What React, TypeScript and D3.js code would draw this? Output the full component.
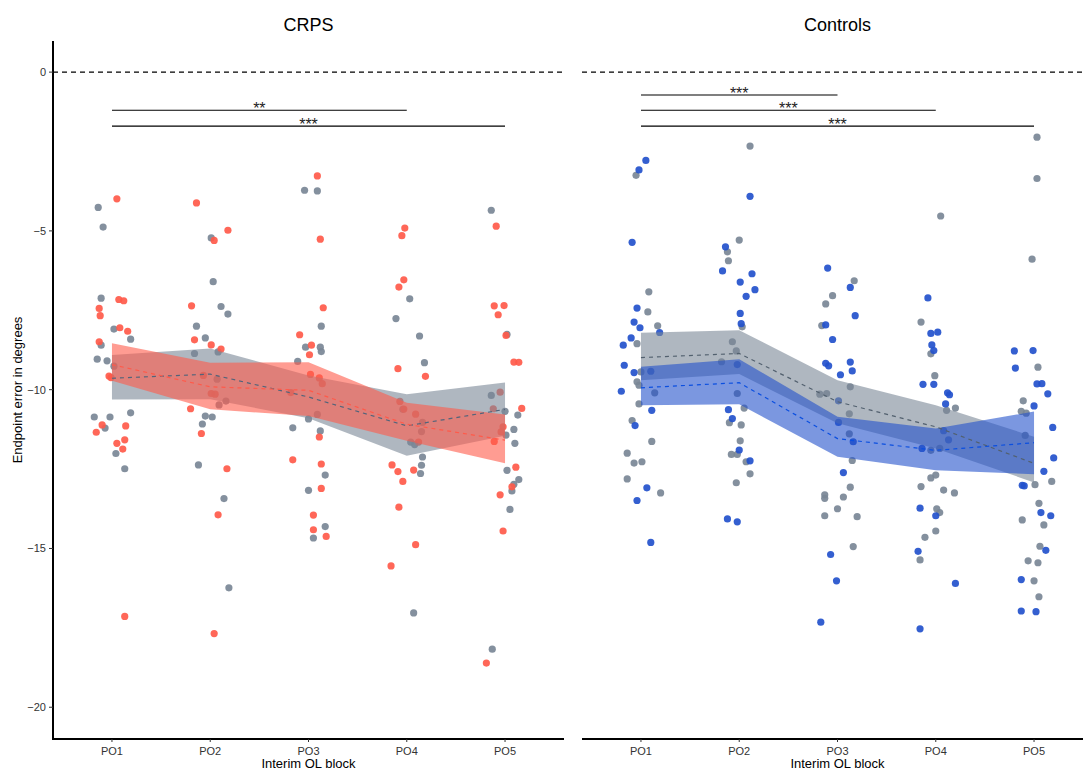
import React from 'react';
import { scaleLinear, line, area } from 'd3';

// categories and axis ticks
const blocks = ['PO1', 'PO2', 'PO3', 'PO4', 'PO5'];
const yTicks = [0, -5, -10, -15, -20];

// CRPS panel: means and CI bands (grey = group A, red = CRPS)
const crpsGreyMean = [-9.64, -9.51, -10.23, -11.14, -10.62];
const crpsGreyLow = [-10.31, -10.3, -10.9, -12.08, -11.45];
const crpsGreyHigh = [-8.91, -8.7, -9.55, -10.14, -9.77];
const crpsRedMean = [-9.21, -9.91, -10.02, -11.09, -11.59];
const crpsRedLow = [-9.72, -10.62, -10.83, -11.61, -12.32];
const crpsRedHigh = [-8.54, -9.15, -9.14, -10.41, -10.78];

// Controls panel
const ctrlGreyMean = [-8.99, -8.86, -10.38, -11.17, -12.32];
const ctrlGreyLow = [-9.7, -9.51, -11.06, -11.85, -12.92];
const ctrlGreyHigh = [-8.21, -8.13, -9.7, -10.49, -11.48];
const ctrlBlueMean = [-9.94, -9.78, -11.54, -11.91, -11.67];
const ctrlBlueLow = [-10.49, -10.46, -12.11, -12.54, -12.66];
const ctrlBlueHigh = [-9.28, -9.04, -10.85, -11.22, -10.69];

// individual points: [block (1-5), jitter, value]
const crpsGreyPts = [
  [1, -0.14, -4.26], [1, -0.09, -4.88], [1, -0.11, -7.12], [1, 0.02, -8.09], [1, 0.19, -8.41], [1, -0.11, -8.6],
  [1, -0.15, -9.04], [1, -0.05, -9.09], [1, 0.02, -9.26], [1, -0.18, -10.86], [1, -0.02, -10.86], [1, 0.19, -10.73],
  [1, -0.07, -11.21], [1, 0.04, -12.01], [1, 0.13, -12.49],
  [2, 0.01, -5.22], [2, 0.03, -6.6], [2, 0.11, -7.38], [2, 0.18, -7.62], [2, -0.14, -8.0], [2, -0.05, -8.37],
  [2, 0.08, -8.81], [2, -0.16, -8.86], [2, 0.07, -9.67], [2, 0.16, -10.36], [2, 0.09, -10.48], [2, -0.05, -10.83],
  [2, 0.02, -10.86], [2, -0.08, -11.08], [2, -0.12, -12.37], [2, 0.14, -13.43], [2, 0.19, -16.24],
  [3, -0.04, -3.72], [3, 0.09, -3.74], [3, 0.13, -8.0], [3, -0.03, -8.66], [3, 0.12, -8.66], [3, 0.13, -8.8],
  [3, -0.11, -9.11], [3, 0.09, -10.78], [3, 0.0, -10.92], [3, -0.16, -11.2], [3, 0.12, -11.3], [3, 0.17, -12.69],
  [3, 0.0, -13.17], [3, 0.17, -14.31], [3, 0.05, -14.67],
  [4, 0.03, -7.14], [4, -0.11, -7.76], [4, 0.13, -8.31], [4, 0.18, -9.15], [4, -0.04, -10.62], [4, 0.16, -11.03],
  [4, 0.15, -11.32], [4, 0.04, -11.65], [4, 0.08, -11.73], [4, 0.16, -12.12], [4, 0.15, -12.38], [4, 0.14, -12.64],
  [4, 0.07, -17.03],
  [5, -0.14, -4.35], [5, 0.02, -8.26], [5, -0.14, -10.18], [5, 0.0, -10.68], [5, 0.13, -10.8], [5, 0.09, -11.25],
  [5, 0.01, -11.43], [5, 0.1, -11.69], [5, 0.02, -12.54], [5, 0.14, -12.83], [5, 0.09, -12.98], [5, 0.07, -13.19],
  [5, 0.05, -13.77], [5, -0.13, -18.17],
];

const crpsRedPts = [
  [1, 0.05, -3.99], [1, 0.07, -7.16], [1, 0.12, -7.2], [1, -0.13, -7.44], [1, -0.12, -7.67], [1, 0.08, -8.05],
  [1, 0.16, -8.16], [1, -0.13, -8.49], [1, -0.03, -9.57], [1, -0.01, -9.62], [1, -0.1, -11.11], [1, -0.16, -11.34],
  [1, 0.14, -11.14], [1, 0.13, -11.58], [1, 0.05, -11.69], [1, 0.11, -11.87], [1, 0.13, -17.14],
  [2, -0.14, -4.12], [2, 0.18, -4.98], [2, 0.04, -5.3], [2, -0.19, -7.36], [2, -0.16, -8.43], [2, 0.01, -8.59],
  [2, 0.11, -8.72], [2, -0.07, -9.55], [2, 0.01, -10.12], [2, 0.05, -10.14], [2, -0.2, -10.6], [2, -0.09, -11.38],
  [2, 0.17, -12.49], [2, 0.08, -13.94], [2, 0.04, -17.68],
  [3, 0.09, -3.27], [3, 0.12, -5.26], [3, 0.15, -7.42], [3, -0.09, -8.27], [3, 0.03, -8.6], [3, 0.01, -8.9],
  [3, 0.02, -9.52], [3, 0.11, -9.63], [3, 0.14, -9.81], [3, -0.18, -10.09], [3, 0.11, -11.49], [3, -0.16, -12.21],
  [3, 0.13, -12.34], [3, 0.13, -13.11], [3, 0.05, -13.95], [3, 0.05, -14.41], [3, 0.18, -14.62],
  [4, -0.02, -4.91], [4, -0.05, -5.15], [4, -0.03, -6.54], [4, -0.08, -6.77], [4, -0.09, -9.34], [4, 0.19, -9.58],
  [4, -0.07, -10.37], [4, -0.03, -10.61], [4, 0.09, -10.77], [4, 0.12, -11.65], [4, -0.15, -12.37], [4, -0.09, -12.58],
  [4, 0.07, -12.53], [4, -0.04, -12.89], [4, -0.08, -13.7], [4, 0.09, -14.88], [4, -0.16, -15.55],
  [5, -0.09, -4.85], [5, -0.11, -7.36], [5, -0.01, -7.35], [5, -0.07, -7.64], [5, 0.01, -8.29], [5, 0.09, -9.13],
  [5, 0.14, -9.14], [5, -0.05, -10.08], [5, 0.17, -10.59], [5, -0.12, -10.6], [5, -0.02, -11.17], [5, -0.04, -11.33],
  [5, -0.11, -11.63], [5, 0.11, -12.44], [5, 0.07, -13.06], [5, -0.05, -13.31], [5, -0.02, -14.45], [5, -0.19, -18.61],
];

const ctrlGreyPts = [
  [1, -0.05, -3.25], [1, 0.08, -6.92], [1, 0.07, -7.55], [1, 0.17, -7.99], [1, -0.04, -8.55], [1, 0.0, -9.44],
  [1, -0.04, -9.75], [1, -0.02, -9.86], [1, 0.14, -10.1], [1, -0.02, -10.45], [1, -0.09, -10.97], [1, 0.11, -11.63],
  [1, -0.14, -12.0], [1, -0.07, -12.31], [1, 0.01, -12.27], [1, -0.14, -12.81], [1, 0.2, -13.25],
  [2, 0.11, -2.33], [2, 0.0, -5.29], [2, -0.12, -5.66], [2, -0.11, -5.94], [2, 0.03, -8.02], [2, -0.07, -8.49],
  [2, -0.03, -8.78], [2, -0.18, -9.12], [2, -0.02, -10.12], [2, 0.05, -10.58], [2, -0.1, -11.04], [2, 0.02, -11.11],
  [2, 0.01, -11.61], [2, -0.08, -12.04], [2, -0.02, -12.04], [2, 0.07, -12.27], [2, 0.11, -12.65], [2, -0.03, -12.93],
  [3, 0.17, -6.57], [3, -0.05, -7.04], [3, -0.12, -7.3], [3, -0.16, -7.98], [3, 0.13, -9.91], [3, -0.18, -10.14],
  [3, -0.11, -10.12], [3, 0.12, -10.76], [3, 0.12, -11.39], [3, 0.15, -12.23], [3, 0.13, -13.07], [3, -0.13, -13.31],
  [3, -0.13, -13.42], [3, 0.06, -13.38], [3, 0.0, -13.75], [3, -0.13, -13.97], [3, 0.2, -14.0], [3, 0.16, -14.94],
  [4, 0.05, -4.53], [4, -0.15, -7.87], [4, -0.05, -8.87], [4, -0.01, -9.56], [4, 0.11, -10.65], [4, 0.2, -10.58],
  [4, -0.05, -11.91], [4, 0.04, -11.85], [4, -0.05, -12.78], [4, 0.0, -12.69], [4, -0.15, -13.05], [4, 0.08, -13.16],
  [4, 0.19, -13.25], [4, 0.01, -13.75], [4, 0.04, -13.87], [4, 0.0, -14.45], [4, -0.11, -14.65], [4, -0.16, -15.36],
  [5, 0.03, -2.05], [5, 0.03, -3.35], [5, -0.02, -5.89], [5, 0.04, -9.29], [5, -0.11, -10.35], [5, -0.13, -10.68],
  [5, -0.08, -10.74], [5, -0.09, -11.44], [5, 0.18, -12.89], [5, 0.01, -12.99], [5, 0.05, -13.58], [5, -0.12, -14.1],
  [5, 0.1, -14.26], [5, 0.06, -14.93], [5, -0.06, -15.39], [5, 0.04, -15.45], [5, 0.0, -16.02], [5, 0.05, -16.52],
];

const ctrlBluePts = [
  [1, 0.05, -2.78], [1, -0.02, -3.08], [1, -0.09, -5.36], [1, -0.04, -7.43], [1, -0.07, -7.87], [1, -0.01, -8.05],
  [1, 0.19, -8.2], [1, -0.1, -8.37], [1, -0.18, -8.6], [1, -0.17, -9.23], [1, -0.07, -9.46], [1, 0.1, -9.42],
  [1, -0.2, -10.05], [1, 0.11, -10.65], [1, -0.06, -11.13], [1, 0.06, -13.09], [1, -0.04, -13.49], [1, 0.1, -14.81],
  [2, 0.11, -3.91], [2, -0.14, -5.5], [2, -0.17, -6.26], [2, 0.13, -6.35], [2, 0.01, -6.61], [2, 0.16, -6.85],
  [2, 0.07, -7.06], [2, 0.01, -7.6], [2, 0.02, -7.92], [2, -0.02, -9.21], [2, -0.11, -10.63], [2, -0.07, -10.91],
  [2, 0.0, -11.9], [2, 0.11, -12.24], [2, -0.12, -14.07], [2, -0.02, -14.16],
  [3, -0.1, -6.17], [3, 0.13, -6.78], [3, 0.18, -7.67], [3, -0.12, -7.96], [3, -0.05, -8.42], [3, -0.12, -9.17],
  [3, -0.09, -9.25], [3, 0.13, -9.13], [3, 0.15, -9.41], [3, 0.03, -9.53], [3, 0.01, -10.35], [3, 0.01, -11.03],
  [3, 0.16, -11.64], [3, 0.06, -12.61], [3, -0.07, -15.19], [3, -0.01, -16.02], [3, -0.17, -17.32],
  [4, -0.08, -7.11], [4, -0.05, -8.23], [4, 0.02, -8.19], [4, -0.04, -8.59], [4, -0.02, -8.77], [4, -0.13, -9.83],
  [4, -0.02, -9.83], [4, 0.12, -10.1], [4, 0.14, -10.16], [4, 0.1, -10.45], [4, 0.08, -11.29], [4, 0.13, -11.58],
  [4, -0.14, -11.85], [4, -0.16, -13.73], [4, 0.0, -13.97], [4, -0.18, -15.09], [4, 0.2, -16.1], [4, -0.16, -17.53],
  [5, -0.2, -8.78], [5, -0.01, -8.77], [5, -0.19, -9.32], [5, 0.03, -9.82], [5, 0.08, -9.81], [5, 0.14, -10.13],
  [5, 0.0, -10.51], [5, 0.19, -11.19], [5, 0.2, -12.15], [5, 0.1, -12.57], [5, -0.12, -13.01], [5, -0.1, -13.03],
  [5, 0.07, -13.87], [5, 0.17, -13.97], [5, 0.12, -15.06], [5, -0.13, -15.98], [5, -0.13, -16.97], [5, 0.02, -16.99],
];

// significance brackets: [from block, to block, height, label]
const crpsSig = [[1, 4, -1.2, '**'], [1, 5, -1.7, '***']];
const ctrlSig = [[1, 3, -0.72, '***'], [1, 4, -1.2, '***'], [1, 5, -1.7, '***']];

const GREY = '#7a8796';
const RED = '#ff5a4a';
const BLUE = '#2351cc';
const FONT = '"Liberation Sans", Arial, Helvetica, sans-serif';

const W = 1083;
const H = 770;
const top = 41;
const bottom = 739;
const panelW = 511;

const y = scaleLinear().domain([-21, 0.98]).range([bottom, top]);

function Panel({ x0, title, groups, sig, showYAxis }) {
  const x = scaleLinear().domain([0.4, 5.6]).range([x0, x0 + panelW]);

  const bandFn = (lo, hi) =>
    area()
      .x((d, i) => x(i + 1))
      .y0((d, i) => y(lo[i]))
      .y1((d, i) => y(hi[i]))(lo);

  const lineFn = line()
    .x((d, i) => x(i + 1))
    .y((d) => y(d));

  return (
    <g>
      <text x={x(3)} y={31} textAnchor="middle" fontSize={18} fontFamily={FONT} fill="#000">
        {title}
      </text>

      {/* zero reference */}
      <line x1={x0} x2={x0 + panelW} y1={y(0)} y2={y(0)} stroke="#000" strokeWidth={1.1} strokeDasharray="5,4" />

      {/* points under the ribbons */}
      {groups.map((g, gi) =>
        g.pts.map((p, i) => (
          <circle key={gi + '-' + i} cx={x(p[0] + p[1])} cy={y(p[2])} r={3.6} fill={g.color} opacity={0.92} />
        ))
      )}

      {groups.map((g, gi) => (
        <path key={'band' + gi} d={bandFn(g.low, g.high)} fill={g.color} fillOpacity={0.6} stroke="none" />
      ))}

      {groups.map((g, gi) => (
        <path key={'line' + gi} d={lineFn(g.mean)} fill="none" stroke={g.lineColor} strokeWidth={1.2} strokeDasharray="4,4" />
      ))}

      {/* significance bars */}
      {sig.map((s, i) => (
        <g key={'sig' + i}>
          <line x1={x(s[0])} x2={x(s[1])} y1={y(s[2])} y2={y(s[2])} stroke="#000" strokeWidth={1.1} />
          <text x={(x(s[0]) + x(s[1])) / 2} y={y(s[2]) + 4} textAnchor="middle" fontSize={16} fontFamily={FONT} fill="#222">
            {s[3]}
          </text>
        </g>
      ))}

      {/* x axis */}
      <line x1={x0} x2={x0 + panelW} y1={bottom} y2={bottom} stroke="#000" strokeWidth={2} />
      {blocks.map((b, i) => (
        <g key={b}>
          <line x1={x(i + 1)} x2={x(i + 1)} y1={bottom} y2={bottom + 3} stroke="#333" strokeWidth={1} />
          <text x={x(i + 1)} y={755} textAnchor="middle" fontSize={11} fontFamily={FONT} fill="#333">
            {b}
          </text>
        </g>
      ))}
      <text x={x(3)} y={768} textAnchor="middle" fontSize={13} fontFamily={FONT} fill="#000">
        Interim OL block
      </text>

      {showYAxis && (
        <g>
          <line x1={x0} x2={x0} y1={top} y2={bottom + 1} stroke="#000" strokeWidth={2} />
          {yTicks.map((t) => (
            <g key={t}>
              <line x1={x0 - 4} x2={x0} y1={y(t)} y2={y(t)} stroke="#333" strokeWidth={1} />
              <text x={x0 - 7} y={y(t) + 4} textAnchor="end" fontSize={11} fontFamily={FONT} fill="#333">
                {t < 0 ? '\u2212' + Math.abs(t) : t}
              </text>
            </g>
          ))}
        </g>
      )}
    </g>
  );
}

export default function App() {
  const crpsGroups = [
    { color: GREY, lineColor: '#52647a', pts: crpsGreyPts, mean: crpsGreyMean, low: crpsGreyLow, high: crpsGreyHigh },
    { color: RED, lineColor: RED, pts: crpsRedPts, mean: crpsRedMean, low: crpsRedLow, high: crpsRedHigh },
  ];
  const ctrlGroups = [
    { color: GREY, lineColor: '#52606e', pts: ctrlGreyPts, mean: ctrlGreyMean, low: ctrlGreyLow, high: ctrlGreyHigh },
    { color: BLUE, lineColor: '#0b4fe0', pts: ctrlBluePts, mean: ctrlBlueMean, low: ctrlBlueLow, high: ctrlBlueHigh },
  ];

  return (
    <div style={{ position: 'absolute', left: 0, top: 0 }}>
      <svg width={W} height={H} style={{ display: 'block', background: '#fff' }}>
        <text
          transform={`translate(22,${(top + bottom) / 2}) rotate(-90)`}
          textAnchor="middle"
          fontSize={13}
          fontFamily={FONT}
          fill="#000"
        >
          Endpoint error in degrees
        </text>
        <Panel x0={53} title="CRPS" groups={crpsGroups} sig={crpsSig} showYAxis={true} />
        <Panel x0={582} title="Controls" groups={ctrlGroups} sig={ctrlSig} showYAxis={false} />
      </svg>
    </div>
  );
}
